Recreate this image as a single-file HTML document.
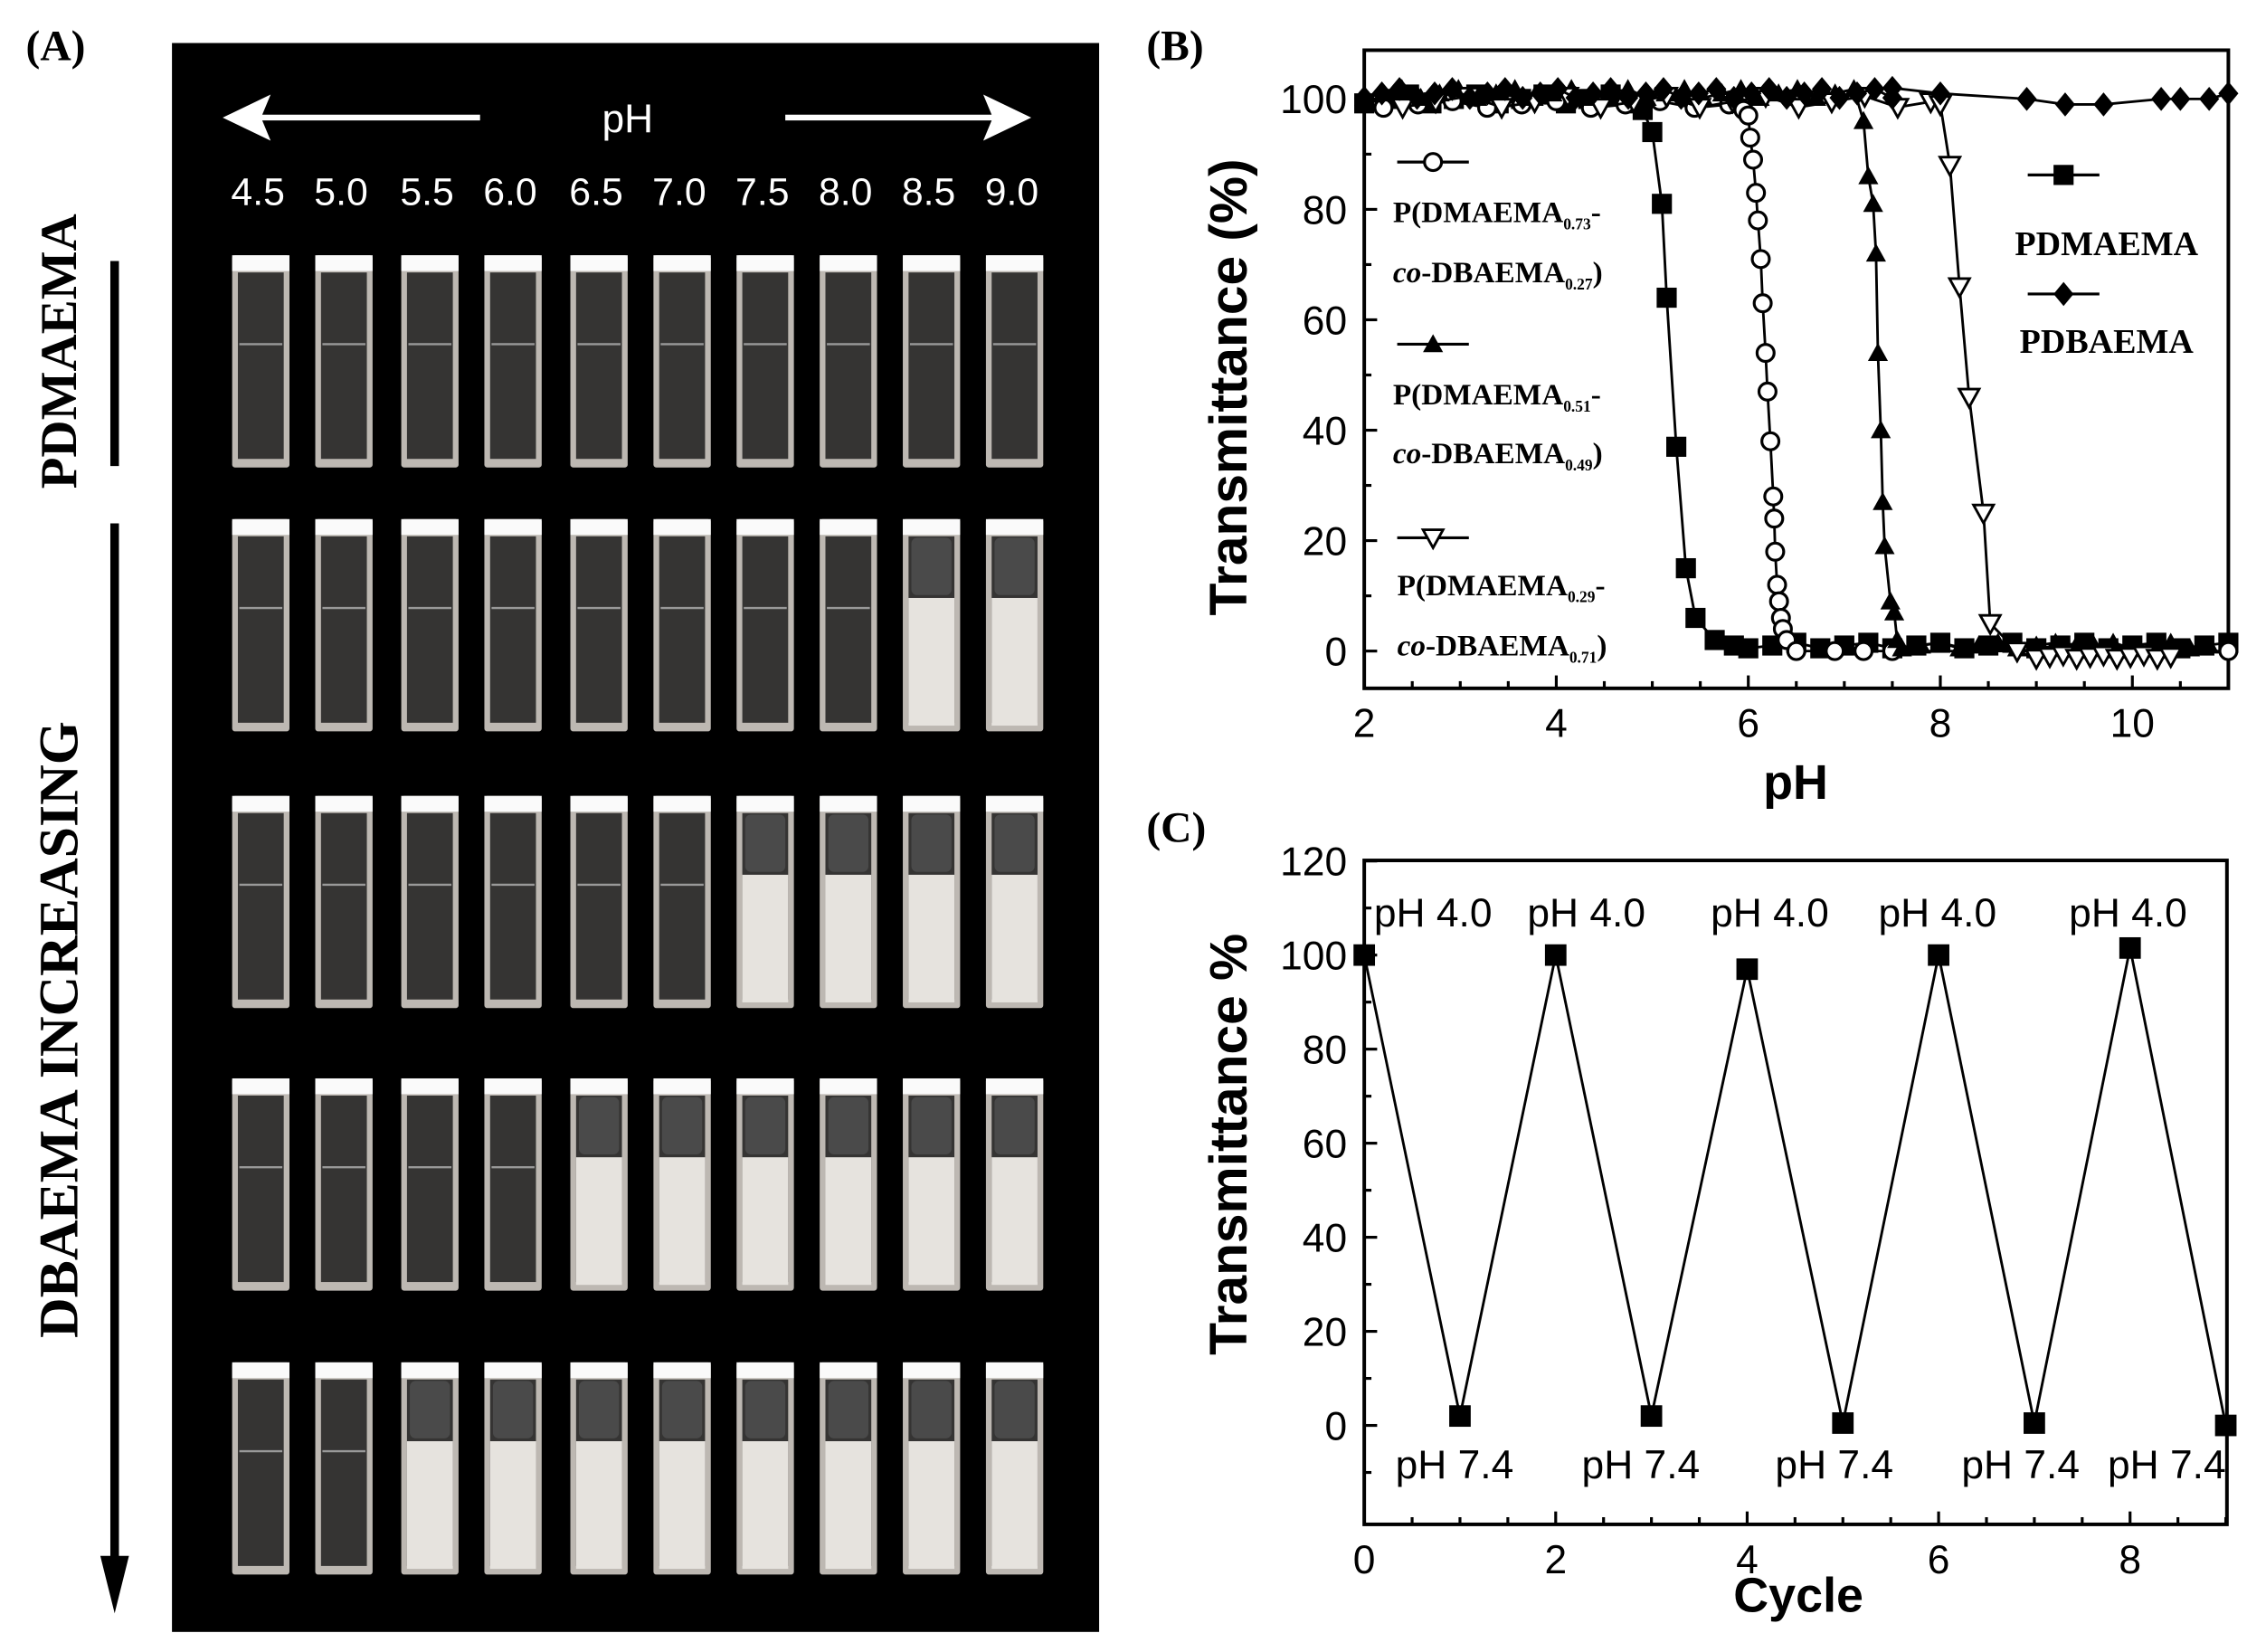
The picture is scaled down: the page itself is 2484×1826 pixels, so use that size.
<!DOCTYPE html>
<html><head><meta charset="utf-8"><style>
html,body{margin:0;padding:0;background:#fff;width:2484px;height:1826px;overflow:hidden}
svg{display:block}
.ser{font-family:"Liberation Serif",serif;font-weight:bold}
.san{font-family:"Liberation Sans",sans-serif}
</style></head><body>
<svg id="s" width="2484" height="1826" viewBox="0 0 1568 1152" preserveAspectRatio="none" xmlns="http://www.w3.org/2000/svg">
<rect x="0" y="0" width="1568" height="1152" fill="#fff"/>
<text x="18" y="42" class="ser" font-size="30">(A)</text>
<rect x="120" y="30" width="647" height="1108" fill="#000"/>
<g stroke="#fff" stroke-width="4" fill="#fff">
<line x1="170" y1="82" x2="335" y2="82"/><path d="M160 82 L185 70 L180 82 L185 94 Z"/>
<line x1="548" y1="82" x2="705" y2="82"/><path d="M715 82 L690 70 L695 82 L690 94 Z"/>
</g>
<text x="438" y="92" fill="#fff" class="san" font-size="28" text-anchor="middle">pH</text>
<g id="phl" fill="#fff" class="san" font-size="27" text-anchor="middle"></g>
<g id="cuv"></g>
<text transform="translate(53,245) rotate(-90)" class="ser" font-size="36" text-anchor="middle">PDMAEMA</text>
<line x1="80" y1="182" x2="80" y2="325" stroke="#000" stroke-width="6"/>
<text transform="translate(54,718) rotate(-90)" class="ser" font-size="39" text-anchor="middle">DBAEMA INCREASING</text>
<line x1="80" y1="365" x2="80" y2="1095" stroke="#000" stroke-width="6"/>
<path d="M70 1085 L80 1125 L90 1085 Z" fill="#000"/>

<text x="800" y="42" class="ser" font-size="30">(B)</text>
<text x="800" y="587" class="ser" font-size="30">(C)</text>
<g id="B"></g><g id="C"></g>
<text transform="translate(870,270) rotate(-90)" class="san" font-weight="bold" font-size="37" text-anchor="middle">Transmittance (%)</text>
<text x="1253" y="557" class="san" font-weight="bold" font-size="34" text-anchor="middle">pH</text>
<text transform="translate(870,798) rotate(-90)" class="san" font-weight="bold" font-size="37" text-anchor="middle">Transmittance %</text>
<text x="1255" y="1124" class="san" font-weight="bold" font-size="34" text-anchor="middle">Cycle</text>
</svg>
<script>
const NS="http://www.w3.org/2000/svg";
function el(p,t,a,txt){const e=document.createElementNS(NS,t);for(const k in a)e.setAttribute(k,a[k]);if(txt!==undefined)e.textContent=txt;p.appendChild(e);return e;}
const cx=[182,240,300,358,418,476,534,592,650,708];
const labs=["4.5","5.0","5.5","6.0","6.5","7.0","7.5","8.0","8.5","9.0"];
const phl=document.getElementById('phl');
labs.forEach((l,i)=>el(phl,'text',{x:cx[i]-2,y:143},l));
const tops=[178,362,555,752,950];const cloudy=[99,8,6,4,2];
const cuv=document.getElementById('cuv');
tops.forEach((ty,r)=>{cx.forEach((x,i)=>{
 const w=40,h=148,x0=x-20;
 el(cuv,'rect',{x:x0,y:ty,width:w,height:h,fill:'#bdb8b2',rx:2});
 el(cuv,'rect',{x:x0+4,y:ty+12,width:w-8,height:h-18,fill:'#353433'});
 el(cuv,'rect',{x:x0,y:ty,width:w,height:11,fill:'#fafafa'});
 if(i>=cloudy[r]){el(cuv,'rect',{x:x0+4,y:ty+55,width:w-8,height:h-59,fill:'#e6e3de'});
   el(cuv,'rect',{x:x0+6,y:ty+13,width:w-12,height:40,fill:'#4a4a4a',rx:4});}
 else{el(cuv,'line',{x1:x0+5,y1:ty+62,x2:x0+w-5,y2:ty+62,stroke:'#999','stroke-width':1.5});}
});});
const B=document.getElementById('B');
const bx=v=>952+(v-2)*67,by=v=>454-v*3.85;
el(B,'rect',{x:952,y:35,width:603,height:445,fill:'none',stroke:'#000','stroke-width':2.5});
for(let v=2;v<=11;v+=0.5){const X=bx(v),L=(v%2==0)?9:5;el(B,'line',{x1:X,y1:480,x2:X,y2:480-L,stroke:'#000','stroke-width':2});}
[2,4,6,8,10].forEach(v=>el(B,'text',{x:bx(v),y:514,'text-anchor':'middle','font-size':28,'font-family':'Liberation Sans'},v));
for(let v=0;v<=100;v+=10){const Y=by(v),L=(v%20==0)?9:5;el(B,'line',{x1:952,y1:Y,x2:952+L,y2:Y,stroke:'#000','stroke-width':2});}
[0,20,40,60,80,100].forEach(v=>el(B,'text',{x:940,y:by(v)+10,'text-anchor':'end','font-size':28,'font-family':'Liberation Sans'},v));
function flat(a,b,n,val,j){const r=[];for(let i=0;i<=n;i++){r.push([a+(b-a)*i/n,val+(j?((i*7)%3-1)*j:0)]);}return r;}
const sq=[...flat(2,4.8,12,100,0.8),[4.9,98],[5.0,94],[5.1,81],[5.15,64],[5.25,37],[5.35,15],[5.45,6],[5.65,2],[5.85,1],...flat(6,11,20,1,0.5)];
const ci=[...flat(2.2,5.8,10,99,0.6),[5.95,98],[6,97],[6.02,93],[6.05,89],[6.08,83],[6.1,78],[6.13,71],[6.15,63],[6.18,54],[6.2,47],[6.23,38],[6.26,28],[6.27,24],[6.28,18],[6.3,12],[6.32,9],[6.34,6],[6.36,4],[6.4,2],[6.5,0],[6.9,0],[7.2,0],[7.5,0],[9,0],[11,0]];
const tu=[...flat(2,7.1,26,101,0.8),[7.2,96],[7.25,86],[7.3,81],[7.33,72],[7.35,54],[7.38,40],[7.4,27],[7.42,19],[7.48,9],[7.52,7],[7.55,2],...flat(7.6,10.8,16,1,0.5)];
const td=[...flat(2.4,7.9,16,99.5,1),[8.0,99],[8.1,88],[8.2,66],[8.3,46],[8.45,25],[8.52,5],[8.8,0],...flat(9,10.4,10,-1,0.3)];
const di=[...flat(2,7.5,30,101,0.8),[7.5,102],[8,101],[8.9,100],[9.3,99],[9.7,99],[10.3,100],[10.5,100],[10.8,100],[11,101]];
function line(g,pts,fx,fy){el(g,'polyline',{points:pts.map(p=>fx(p[0])+','+fy(p[1])).join(' '),fill:'none',stroke:'#000','stroke-width':1.8});}
function mk(g,t,X,Y,r){r=r||7;
 if(t=='s')el(g,'rect',{x:X-r,y:Y-r,width:2*r,height:2*r,fill:'#000'});
 if(t=='c')el(g,'circle',{cx:X,cy:Y,r:r*0.85,fill:'#fff',stroke:'#000','stroke-width':2});
 if(t=='u')el(g,'path',{d:`M${X} ${Y-r} L${X+r} ${Y+r*0.8} L${X-r} ${Y+r*0.8}Z`,fill:'#000'});
 if(t=='d')el(g,'path',{d:`M${X} ${Y+r} L${X+r} ${Y-r*0.8} L${X-r} ${Y-r*0.8}Z`,fill:'#fff',stroke:'#000','stroke-width':1.8});
 if(t=='m')el(g,'path',{d:`M${X} ${Y-r*1.2} L${X+r} ${Y} L${X} ${Y+r*1.2} L${X-r} ${Y}Z`,fill:'#000'});}
[[sq,'s'],[ci,'c'],[tu,'u'],[td,'d'],[di,'m']].forEach(([p,t])=>{line(B,p,bx,by);p.forEach(q=>mk(B,t,bx(q[0]),by(q[1])));});
const lg=[[113,'c'],[240,'u'],[375,'d']];
lg.forEach(([y,t])=>{el(B,'line',{x1:975,y1:y,x2:1025,y2:y,stroke:'#000','stroke-width':2});mk(B,t,1000,y);});
[[1440,122,'s'],[1440,205,'m']].forEach(([x,y,t])=>{el(B,'line',{x1:x-25,y1:y,x2:x+25,y2:y,stroke:'#000','stroke-width':2});mk(B,t,x,y);});
function leg(x,y,a,sub,b,ital){const t=el(B,'text',{x:x,y:y,'font-size':21,'font-family':'Liberation Serif','font-weight':'bold'});
 if(ital){el(t,'tspan',{'font-style':'italic'},'co');el(t,'tspan',{},'-DBAEMA');}else el(t,'tspan',{},a);
 el(t,'tspan',{'font-size':11,dy:5},sub);el(t,'tspan',{dy:-5},b);}
leg(972,155,'P(DMAEMA','0.73','-');leg(972,197,'','0.27',')',1);
leg(972,282,'P(DMAEMA','0.51','-');leg(972,323,'','0.49',')',1);
leg(975,415,'P(DMAEMA','0.29','-');leg(975,457,'','0.71',')',1);
el(B,'text',{x:1470,y:178,'text-anchor':'middle','font-size':24,'font-family':'Liberation Serif','font-weight':'bold'},'PDMAEMA');
el(B,'text',{x:1470,y:246,'text-anchor':'middle','font-size':24,'font-family':'Liberation Serif','font-weight':'bold'},'PDBAEMA');
const C=document.getElementById('C');
const qx=v=>952+v*66.8,qy=v=>994-v*3.28;
el(C,'rect',{x:952,y:600,width:602,height:463,fill:'none',stroke:'#000','stroke-width':2.5});
for(let v=0;v<=9;v+=0.5){const X=qx(v),L=(v%2==0)?9:5;el(C,'line',{x1:X,y1:1063,x2:X,y2:1063-L,stroke:'#000','stroke-width':2});}
[0,2,4,6,8].forEach(v=>el(C,'text',{x:qx(v),y:1097,'text-anchor':'middle','font-size':28,'font-family':'Liberation Sans'},v));
for(let v=-10;v<=120;v+=10){const Y=qy(v),L=(v%20==0)?9:5;el(C,'line',{x1:952,y1:Y,x2:952+L,y2:Y,stroke:'#000','stroke-width':2});}
[0,20,40,60,80,100,120].forEach(v=>el(C,'text',{x:940,y:qy(v)+10,'text-anchor':'end','font-size':28,'font-family':'Liberation Sans'},v));
const cd=[[0,100],[1,2],[2,100],[3,2],[4,97],[5,0.5],[6,100],[7,0.5],[8,101.5],[9,0]];
line(C,cd,qx,qy);cd.forEach(q=>mk(C,'s',qx(q[0]),qy(q[1]),7.5));
[1000,1107,1235,1352,1485].forEach(x=>el(C,'text',{x:x,y:646,'text-anchor':'middle','font-size':28,'font-family':'Liberation Sans'},'pH 4.0'));
[1015,1145,1280,1410,1512].forEach(x=>el(C,'text',{x:x,y:1031,'text-anchor':'middle','font-size':28,'font-family':'Liberation Sans'},'pH 7.4'));
</script>
</body></html>
